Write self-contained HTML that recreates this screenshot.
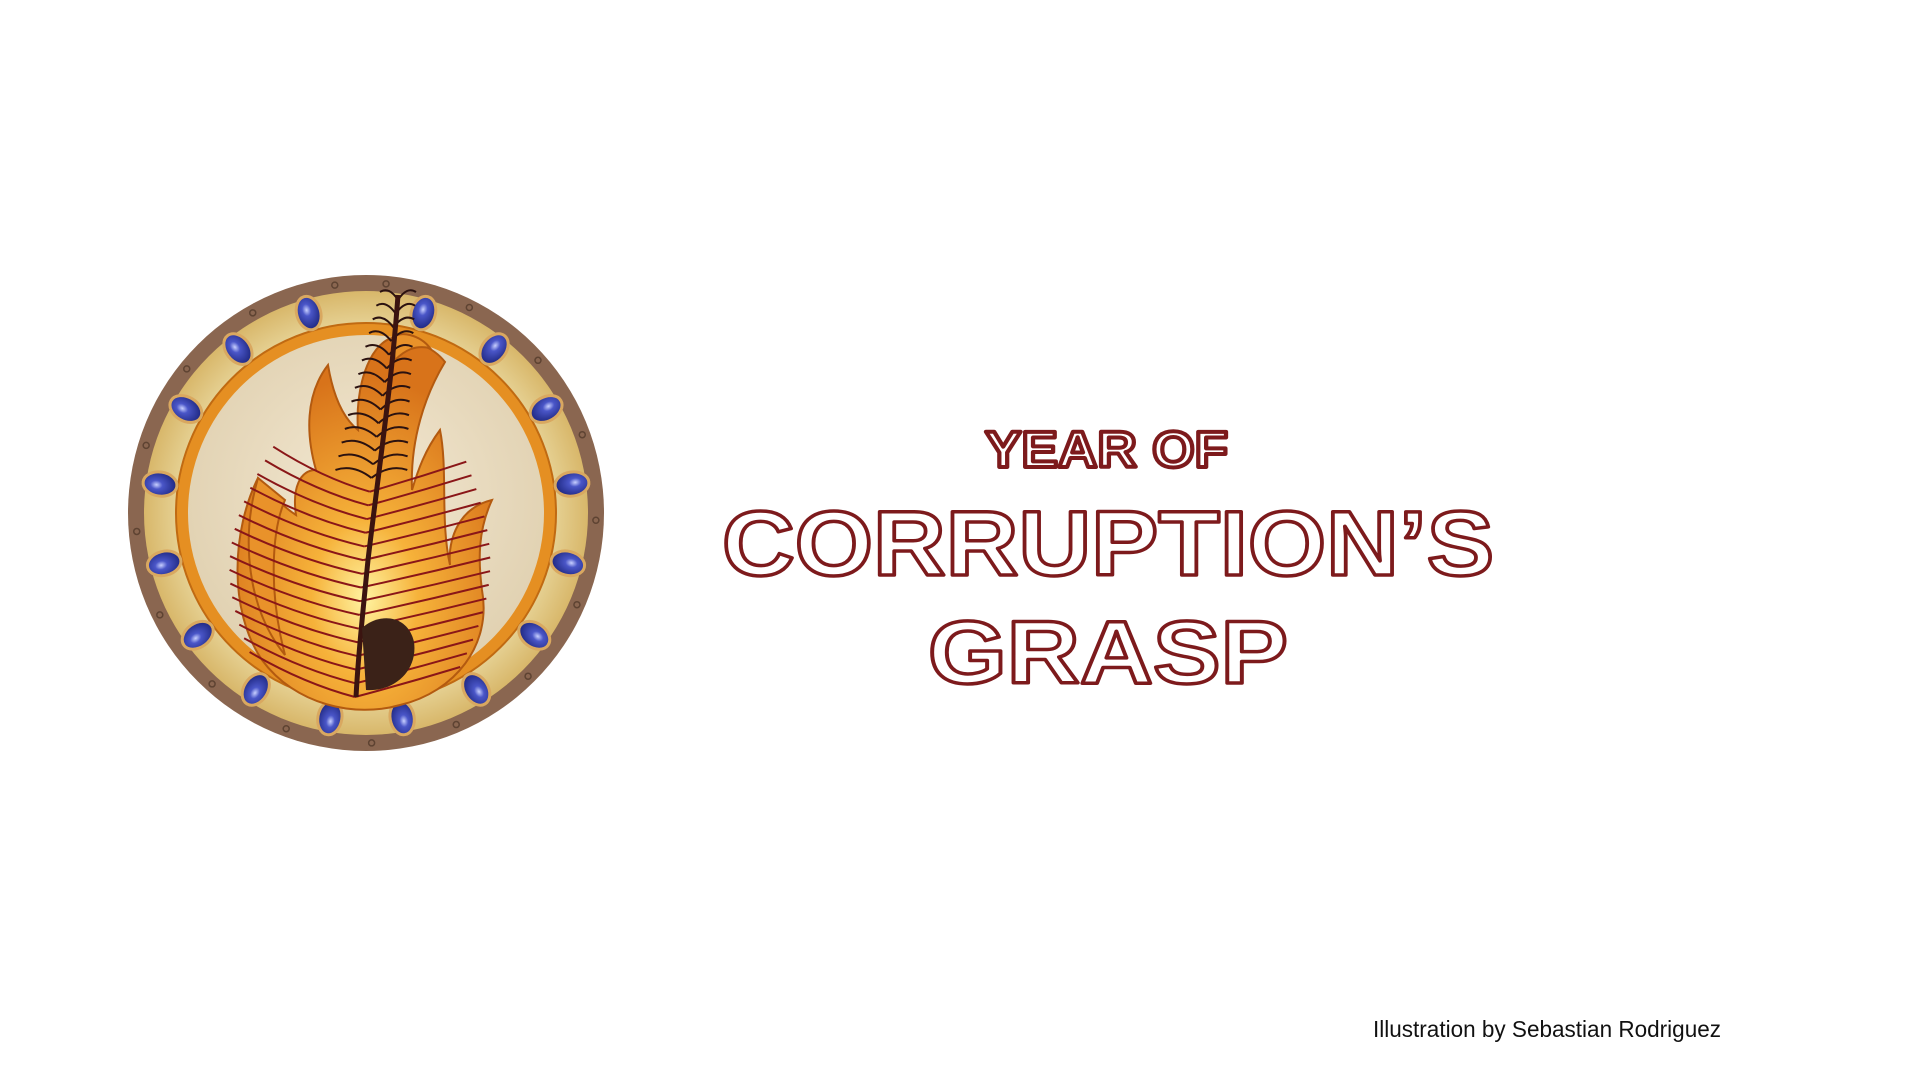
<!DOCTYPE html>
<html><head><meta charset="utf-8"><style>
html,body{margin:0;padding:0;background:#fff;width:1920px;height:1080px;overflow:hidden}
svg{position:absolute;left:0;top:0}
</style></head><body>
<svg width="1920" height="1080" viewBox="0 0 1920 1080" xmlns="http://www.w3.org/2000/svg">
<defs>
<radialGradient id="parch" cx="50%" cy="45%" r="60%"><stop offset="0" stop-color="#f3e8d2"/><stop offset="1" stop-color="#dfcfae"/></radialGradient>
<radialGradient id="gold" cx="50%" cy="50%" r="50%"><stop offset="0.8" stop-color="#ead9a0"/><stop offset="1" stop-color="#d8b76a"/></radialGradient>
<radialGradient id="fire" cx="50%" cy="70%" r="60%"><stop offset="0" stop-color="#fff3a0"/><stop offset="0.35" stop-color="#f6b23a"/><stop offset="1" stop-color="#d8731a"/></radialGradient>
<radialGradient id="gem" cx="45%" cy="40%" r="60%"><stop offset="0" stop-color="#c8d0ff"/><stop offset="0.3" stop-color="#4a56c8"/><stop offset="1" stop-color="#1e2780"/></radialGradient>
</defs>
<g id="emblem">
  <circle cx="366" cy="513" r="238" fill="#8a6650"/>
  <circle cx="366" cy="513" r="222" fill="url(#gold)"/>
  <circle cx="366" cy="513" r="190" fill="#e58f22" stroke="#c06a12" stroke-width="2"/>
  <circle cx="366" cy="513" r="178" fill="url(#parch)"/>
  <g id="rivets"></g>
  <g id="gems"></g>
  <g stroke="#b35a10" stroke-width="2">
    <path d="M258,478 C232,530 228,610 262,660 C295,705 355,718 400,705 C455,692 492,645 482,590 C478,560 478,530 492,500 C458,508 448,540 450,565 C440,520 448,470 440,430 C425,450 418,470 412,490 C410,440 425,395 445,362 C432,345 410,340 392,338 C368,345 355,390 358,430 C343,418 333,395 328,365 C305,395 306,435 316,470 C300,470 292,488 296,515 C280,505 270,490 258,478 Z" fill="url(#fire)"/>
    <path d="M258,478 C240,540 248,610 285,655 C268,590 272,530 285,500 Z" fill="#e9922a"/>
    <path d="M392,338 C400,330 420,335 430,348 C415,345 405,350 395,360 Z" fill="#e9922a"/>
  </g>
  <g id="needles"></g>
  <path d="M398,295 C392,380 380,460 368,560 C362,620 358,660 356,697" stroke="#3b1410" stroke-width="5" fill="none"/>
  <path d="M362,628 C380,612 408,615 414,642 C418,670 395,692 366,690 Z" fill="#3b2218"/>
</g>
<g font-family="'Liberation Sans', sans-serif" font-weight="bold" fill="#fff" stroke="#7d1a1c" stroke-linejoin="round">
  <text x="985" y="467" font-size="51" stroke-width="4" textLength="243" lengthAdjust="spacingAndGlyphs">YEAR OF</text>
  <text x="722" y="575" font-size="92" stroke-width="3.5" textLength="772" lengthAdjust="spacingAndGlyphs">CORRUPTION’S</text>
  <text x="928" y="683" font-size="89" stroke-width="3.5" textLength="360" lengthAdjust="spacingAndGlyphs">GRASP</text>
</g>
<text x="1373" y="1037" font-family="'Liberation Sans', sans-serif" font-size="23" fill="#111" textLength="348" lengthAdjust="spacingAndGlyphs">Illustration by Sebastian Rodriguez</text>
</svg>
<script>
const NS='http://www.w3.org/2000/svg';
const cx=366,cy=513;
const gemAngles=[16,38,60,82,104,126,148,170,-16,-38,-60,-82,-104,-126,-148,-170];
const gg=document.getElementById('gems');
gemAngles.forEach(a=>{
  const r=a*Math.PI/180, R=208;
  const x=cx+R*Math.sin(r), y=cy-R*Math.cos(r);
  const e=document.createElementNS(NS,'ellipse');
  e.setAttribute('cx',x);e.setAttribute('cy',y);e.setAttribute('rx',12);e.setAttribute('ry',17);
  e.setAttribute('fill','url(#gem)');e.setAttribute('stroke','#d9a860');e.setAttribute('stroke-width','3');
  e.setAttribute('transform','rotate('+a+' '+x+' '+y+')');
  
  
  gg.appendChild(e);
});
const rg=document.getElementById('rivets');
for(let a=0;a<360;a+=21.7){
  const r=(a+5)*Math.PI/180,R=230;
  const c=document.createElementNS(NS,'circle');
  c.setAttribute('cx',cx+R*Math.sin(r));c.setAttribute('cy',cy-R*Math.cos(r));c.setAttribute('r',3);
  c.setAttribute('fill','none');c.setAttribute('stroke','#5e4332');c.setAttribute('stroke-width','1.5');
  
  
  rg.appendChild(c);
}
const ng=document.getElementById('needles');
for(let i=0;i<30;i++){
  const t=i/29;
  const sx=398+(356-398)*t - 8*Math.sin(t*3), sy=300+397*t;
  const len=t<0.45?18+t*40:90+Math.sin((t-0.45)*5)*40;
  const col=t<0.45?'#2b1210':'#8a1618';
  [-1,1].forEach(s=>{
    const p=document.createElementNS(NS,'path');
    const ex=sx+s*len, ey=sy+(t<0.45?-8:(s>0?-30:-45));
    p.setAttribute('d','M'+sx+','+sy+' Q'+(sx+s*len*0.5)+','+(sy-14)+' '+ex+','+ey);
    p.setAttribute('stroke',col);p.setAttribute('stroke-width','2');p.setAttribute('fill','none');
    
    
    ng.appendChild(p);
  });
}
</script>
</body></html>
